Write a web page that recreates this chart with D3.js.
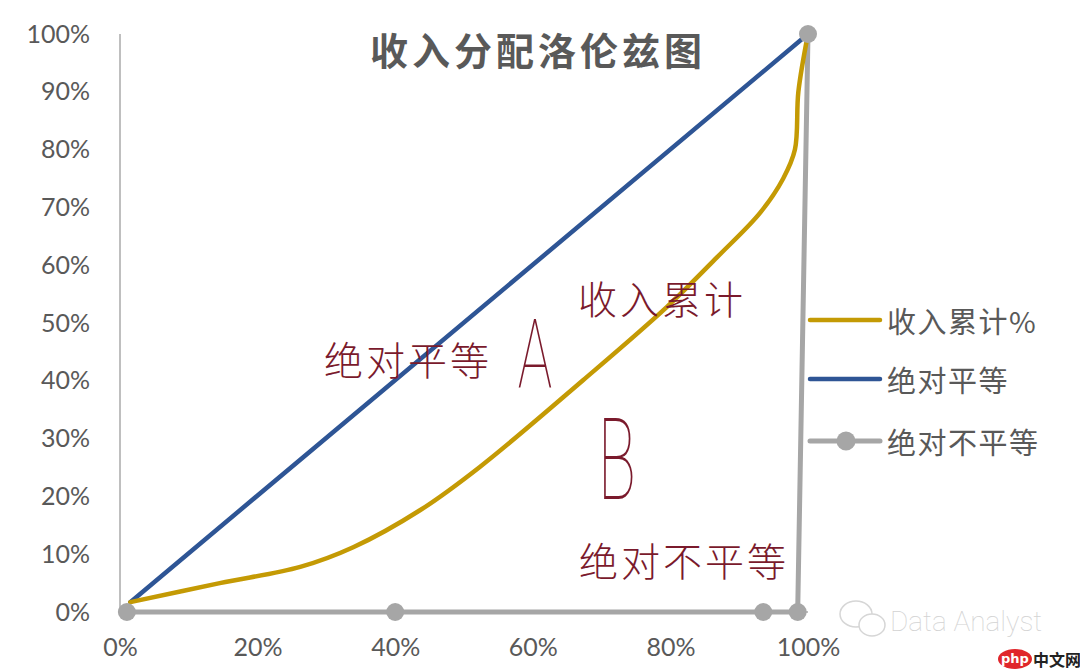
<!DOCTYPE html>
<html>
<head>
<meta charset="utf-8">
<script src="https://cdn.jsdelivr.net/npm/d3@7/dist/d3.min.js"></script>
<style>
  html, body { margin: 0; padding: 0; background: #fff; }
  svg { display: block; }
</style>
</head>
<body>
<svg id="chart" width="1080" height="671"></svg>
<script>
// ---- data ----
const title = "收入分配洛伦兹图";
const xTicks = [0, 0.2, 0.4, 0.6, 0.8, 1.0];
const yTicks = [0, 0.1, 0.2, 0.3, 0.4, 0.5, 0.6, 0.7, 0.8, 0.9, 1.0];
const seriesNames = ["收入累计%", "绝对平等", "绝对不平等"];
// 收入累计% (Lorenz curve)
const incomeX = [0.015, 0.145, 0.262, 0.339, 0.436, 0.523, 0.673, 0.795, 0.868, 0.930, 0.964, 0.981, 0.986, 1.0];
const incomeY = [0.017, 0.050, 0.078, 0.112, 0.176, 0.251, 0.401, 0.528, 0.614, 0.690, 0.750, 0.800, 0.900, 1.0];
// 绝对平等
const equalX = [0.015, 1.0];
const equalY = [0.017, 1.0];
// 绝对不平等
const unequalX = [0.01, 0.40, 0.935, 0.985, 1.0];
const unequalY = [0, 0, 0, 0, 1.0];
// annotations
const annotations = ["收入累计", "绝对平等", "A", "B", "绝对不平等"];

// ---- drawing ----
const svg = d3.select("#chart");
const x = d3.scaleLinear().domain([0, 1]).range([120, 808]);
const y = d3.scaleLinear().domain([0, 1]).range([612, 34]);

const colGold = "#c49a04", colBlue = "#2e5595", colGray = "#a6a6a6";
const textGray = "#595959", annoRed = "#7a1a2c";

// axis lines
svg.append("line").attr("x1", 120).attr("x2", 120).attr("y1", y(1)).attr("y2", y(0))
  .attr("stroke", "#bfbfbf").attr("stroke-width", 2);
svg.append("line").attr("x1", 120).attr("x2", x(1)).attr("y1", y(0)).attr("y2", y(0))
  .attr("stroke", "#bfbfbf").attr("stroke-width", 2);

// axes labels via d3 axes
const pct = d3.format(".0%");
const yAxis = svg.append("g").attr("transform", "translate(120,0)")
  .call(d3.axisLeft(y).tickValues(yTicks).tickFormat(pct).tickSize(0).tickPadding(30));
const xAxis = svg.append("g").attr("transform", `translate(0,${y(0)})`)
  .call(d3.axisBottom(x).tickValues(xTicks).tickFormat(pct).tickSize(0).tickPadding(30));
[yAxis, xAxis].forEach(g => {
  g.select(".domain").remove();
  g.selectAll("text").attr("fill", textGray)
    .style("font-family", "Lato, 'Open Sans', sans-serif").style("font-size", "25px");
});
xAxis.selectAll("text").attr("dy", "0.55em");

// series
const line = d3.line().x(d => x(d[0])).y(d => y(d[1]));
const goldData = d3.zip(incomeX, incomeY);
const blueData = d3.zip(equalX, equalY);
const grayData = d3.zip(unequalX, unequalY);

svg.append("path").datum(grayData).attr("d", line)
  .attr("fill", "none").attr("stroke", colGray).attr("stroke-width", 5).attr("stroke-linejoin", "round");
svg.append("path").datum(blueData).attr("d", line)
  .attr("fill", "none").attr("stroke", colBlue).attr("stroke-width", 4.5).attr("stroke-linecap", "round");
svg.append("path").datum(goldData).attr("d", line.curve(d3.curveCatmullRom.alpha(0.5)))
  .attr("fill", "none").attr("stroke", colGold).attr("stroke-width", 4.5).attr("stroke-linecap", "round");
svg.selectAll("circle.pt").data(grayData).join("circle").attr("class", "pt")
  .attr("cx", d => x(d[0])).attr("cy", d => y(d[1])).attr("r", 9).attr("fill", colGray);

// title
svg.append("text").attr("x", 538).attr("y", 48).attr("text-anchor", "middle")
  .attr("dominant-baseline", "central")
  .attr("fill", textGray).style("font-family", "'Noto Sans CJK SC', sans-serif")
  .style("font-weight", "bold").style("font-size", "38px").style("letter-spacing", "4px")
  .text(title);

// annotations
const cjkLight = "'Noto Sans CJK SC', sans-serif";
function anno(txt, cx, cy, size, spacing) {
  svg.append("text").attr("x", cx).attr("y", cy).attr("text-anchor", "middle")
    .attr("dominant-baseline", "central").attr("fill", annoRed)
    .style("font-family", cjkLight).style("font-weight", 300)
    .style("font-size", size + "px").style("letter-spacing", spacing + "px").text(txt);
}
anno(annotations[0], 662, 297, 39, 3);
anno(annotations[1], 408, 358, 39, 3);
anno(annotations[4], 684, 559, 39, 3);
// handwritten letters
function letter(txt, cx, cy, size, sx) {
  svg.append("text").attr("transform", `translate(${cx},${cy}) scale(${sx},1)`)
    .attr("text-anchor", "middle").attr("dominant-baseline", "central")
    .attr("fill", annoRed).style("font-family", "Roboto, 'Open Sans', sans-serif")
    .style("font-weight", 100).style("font-size", size + "px").text(txt);
}
letter(annotations[2], 535, 355, 96, 0.6);
letter(annotations[3], 617, 460, 114, 0.55);

// legend
const legend = [
  { name: seriesNames[0], color: colGold, dot: false, y: 320 },
  { name: seriesNames[1], color: colBlue, dot: false, y: 379 },
  { name: seriesNames[2], color: colGray, dot: true, y: 441 }
];
const lg = svg.append("g");
legend.forEach(l => {
  lg.append("line").attr("x1", 810).attr("x2", 880).attr("y1", l.y).attr("y2", l.y)
    .attr("stroke", l.color).attr("stroke-width", l.dot ? 5 : 4.5).attr("stroke-linecap", "round");
  if (l.dot) lg.append("circle").attr("cx", 846).attr("cy", l.y).attr("r", 9.5).attr("fill", l.color);
  lg.append("text").attr("x", 887).attr("y", l.y).attr("dominant-baseline", "central")
    .attr("fill", textGray).style("font-family", cjkLight).style("font-size", "29px")
    .style("letter-spacing", "1.5px").text(l.name);
});

// watermark
const wm = svg.append("g").attr("opacity", 0.85);
wm.append("ellipse").attr("cx", 856).attr("cy", 614).attr("rx", 16).attr("ry", 13)
  .attr("fill", "none").attr("stroke", "#cfcfcf").attr("stroke-width", 1.5);
wm.append("ellipse").attr("cx", 872).attr("cy", 625).attr("rx", 13).attr("ry", 11)
  .attr("fill", "#fff").attr("stroke", "#cfcfcf").attr("stroke-width", 1.5);
wm.append("text").attr("x", 890).attr("y", 631).attr("fill", "#cccccc")
  .style("font-family", "Roboto, 'DejaVu Sans', sans-serif").style("font-weight", 100)
  .style("font-size", "28px").text("Data Analyst");
// php logo
svg.append("ellipse").attr("cx", 1015).attr("cy", 659).attr("rx", 17).attr("ry", 10).attr("fill", "#e0262b");
svg.append("text").attr("x", 1015).attr("y", 663).attr("text-anchor", "middle").attr("fill", "#fff")
  .style("font-family", "'DejaVu Sans', sans-serif").style("font-size", "13px").style("font-weight", "bold").text("php");
svg.append("text").attr("x", 1033).attr("y", 666).attr("fill", "#222")
  .style("font-family", "'Noto Sans CJK SC', sans-serif").style("font-size", "16px").style("font-weight", "bold").text("中文网");
</script>
</body>
</html>
